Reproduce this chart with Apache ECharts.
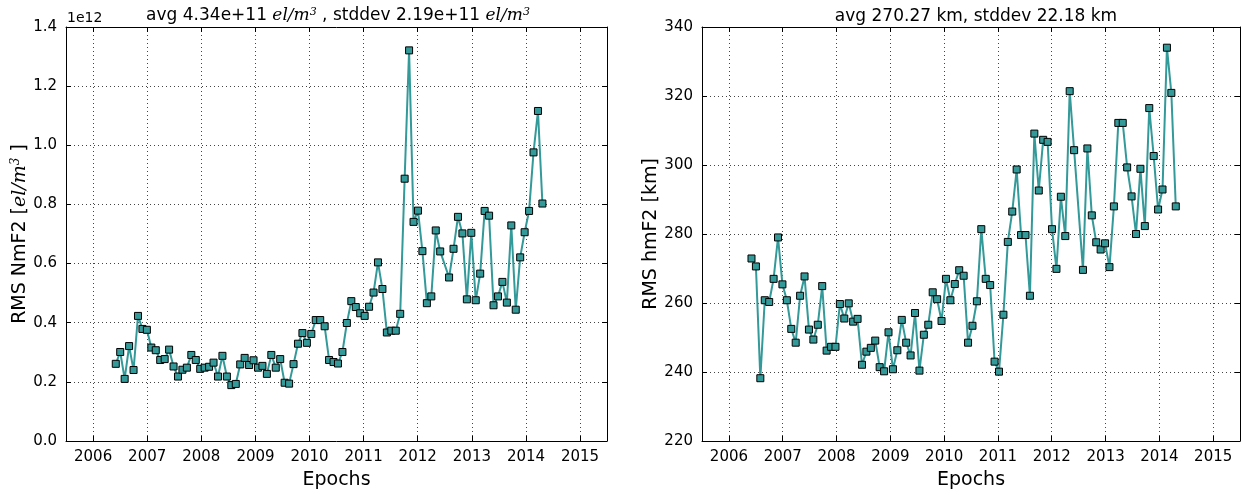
<!DOCTYPE html>
<html>
<head>
<meta charset="utf-8">
<script src="https://cdn.jsdelivr.net/npm/echarts@6/dist/echarts.min.js"></script>
<style>
  html, body { margin: 0; padding: 0; background: #fff; }
  #chart { width: 1242px; height: 495px; }
</style>
</head>
<body>
<div id="chart"></div>
<script>
// epochs (30 day steps, one epoch missing in mid 2012)
var epochs = [
  '2006-06-03', '2006-07-03', '2006-08-02', '2006-09-01', '2006-10-01', '2006-10-31', '2006-11-30', '2006-12-30',
  '2007-01-29', '2007-02-28', '2007-03-30', '2007-04-29', '2007-05-29', '2007-06-28', '2007-07-28', '2007-08-27',
  '2007-09-26', '2007-10-26', '2007-11-25', '2007-12-25', '2008-01-24', '2008-02-23', '2008-03-24', '2008-04-23',
  '2008-05-23', '2008-06-22', '2008-07-22', '2008-08-21', '2008-09-20', '2008-10-20', '2008-11-19', '2008-12-19',
  '2009-01-18', '2009-02-17', '2009-03-19', '2009-04-18', '2009-05-18', '2009-06-17', '2009-07-17', '2009-08-16',
  '2009-09-15', '2009-10-15', '2009-11-14', '2009-12-14', '2010-01-13', '2010-02-12', '2010-03-14', '2010-04-13',
  '2010-05-13', '2010-06-12', '2010-07-12', '2010-08-11', '2010-09-10', '2010-10-10', '2010-11-09', '2010-12-09',
  '2011-01-08', '2011-02-07', '2011-03-09', '2011-04-08', '2011-05-08', '2011-06-07', '2011-07-07', '2011-08-06',
  '2011-09-05', '2011-10-05', '2011-11-04', '2011-12-04', '2012-01-03', '2012-02-02', '2012-03-03', '2012-04-02',
  '2012-05-02', '2012-06-01', '2012-07-31', '2012-08-30', '2012-09-29', '2012-10-29', '2012-11-28', '2012-12-28',
  '2013-01-27', '2013-02-26', '2013-03-28', '2013-04-27', '2013-05-27', '2013-06-26', '2013-07-26', '2013-08-25',
  '2013-09-24', '2013-10-24', '2013-11-23', '2013-12-23', '2014-01-22', '2014-02-21', '2014-03-23', '2014-04-22'
];

// RMS NmF2, in units of 1e12 el/m^3
var nmf2 = [
  0.261, 0.301, 0.210, 0.321, 0.240, 0.423, 0.379, 0.376, 0.316, 0.307, 0.274, 0.277,
  0.309, 0.252, 0.218, 0.241, 0.248, 0.291, 0.274, 0.244, 0.248, 0.251, 0.265, 0.218,
  0.288, 0.218, 0.189, 0.193, 0.259, 0.281, 0.257, 0.273, 0.248, 0.254, 0.227, 0.291,
  0.248, 0.277, 0.197, 0.194, 0.260, 0.329, 0.365, 0.332, 0.362, 0.409, 0.409, 0.388,
  0.274, 0.267, 0.262, 0.301, 0.399, 0.473, 0.453, 0.432, 0.423, 0.454, 0.502, 0.604,
  0.514, 0.367, 0.373, 0.373, 0.430, 0.887, 1.321, 0.741, 0.779, 0.642, 0.466, 0.489,
  0.712, 0.641, 0.553, 0.650, 0.758, 0.702, 0.479, 0.704, 0.476, 0.566, 0.778, 0.762,
  0.459, 0.489, 0.538, 0.468, 0.729, 0.444, 0.621, 0.706, 0.778, 0.976, 1.116, 0.803
];

// RMS hmF2 [km]
var hmf2 = [
  272.9, 270.6, 238.2, 260.8, 260.3, 267.0, 279.0, 265.4, 260.8, 252.5, 248.5, 262.1,
  267.7, 252.3, 249.4, 253.7, 264.9, 246.2, 247.3, 247.3, 259.7, 255.5, 259.9, 254.6,
  255.4, 242.1, 245.9, 247.0, 249.1, 241.4, 240.2, 251.5, 240.8, 246.3, 255.1, 248.5,
  244.8, 257.1, 240.4, 250.8, 253.7, 263.1, 261.1, 254.8, 267.0, 260.8, 265.5, 269.5,
  267.9, 248.5, 253.4, 260.5, 281.4, 267.0, 265.2, 243.0, 240.1, 256.6, 277.7, 286.5,
  298.7, 279.7, 279.7, 262.1, 309.1, 292.6, 307.3, 306.7, 281.4, 269.9, 290.8, 279.4,
  321.4, 304.3, 269.6, 304.8, 285.4, 277.6, 275.5, 277.3, 270.4, 288.0, 312.2, 312.2,
  299.3, 290.9, 280.0, 298.9, 282.3, 316.5, 302.6, 287.1, 292.9, 334.0, 320.9, 288.0
];

var xMin = '2005-07-02';
var xMax = '2015-07-02';
var font = 'DejaVu Sans';
var teal = '#339999';

var chart = echarts.init(document.getElementById('chart'));

function pairs(vals) {
    return epochs.map(function (d, i) { return [d, vals[i]]; });
}

var dotted = { show: true, lineStyle: { color: '#444', width: 1, type: [1, 3] } };
var frameLine = { show: true, onZero: false, lineStyle: { color: '#000', width: 1 } };
var tick = { show: true, inside: true, length: 5, lineStyle: { color: '#000' } };

function xAxis(grid, pos) {
    var bottom = pos === 'bottom';
    return {
        type: 'time', gridIndex: grid, position: pos,
        min: xMin, max: xMax, splitNumber: 10,
        minInterval: 365 * 24 * 3600 * 1000,
        axisLine: frameLine, axisTick: tick,
        splitLine: bottom ? dotted : { show: false },
        axisLabel: {
            show: bottom, formatter: '{yyyy}', margin: 9,
            color: '#000', fontFamily: font, fontSize: 15
        },
        name: bottom ? 'Epochs' : '', nameLocation: 'middle', nameGap: 30,
        nameTextStyle: { color: '#000', fontFamily: font, fontSize: 19 }
    };
}

function yAxis(grid, pos, min, max, step, fmt, name, gap) {
    var left = pos === 'left';
    return {
        type: 'value', gridIndex: grid, position: pos,
        min: min, max: max, interval: step,
        axisLine: frameLine, axisTick: tick,
        splitLine: left ? dotted : { show: false },
        axisLabel: {
            show: left, formatter: fmt, margin: 9,
            color: '#000', fontFamily: font, fontSize: 15
        },
        name: left ? name : '', nameLocation: 'middle', nameGap: gap,
        nameTextStyle: {
            color: '#000', fontFamily: font, fontSize: 19,
            rich: {
                i: { fontFamily: 'DejaVu Serif', fontStyle: 'italic', fontSize: 19, color: '#000' },
                s: { fontFamily: 'DejaVu Serif', fontStyle: 'italic', fontSize: 12, color: '#000',
                     verticalAlign: 'top', lineHeight: 12 }
            }
        }
    };
}

var titleRich = {
    i: { fontFamily: 'DejaVu Serif', fontStyle: 'italic', fontSize: 17, color: '#000' },
    s: { fontFamily: 'DejaVu Serif', fontStyle: 'italic', fontSize: 11, color: '#000',
         verticalAlign: 'top', lineHeight: 11 }
};

var option = {
    animation: false,
    backgroundColor: '#fff',
    title: [{
        text: 'avg 4.34e+11 {i|el/m}{s|3} , stddev 2.19e+11 {i|el/m}{s|3}',
        left: 333, top: 2, textAlign: 'center',
        textStyle: { fontFamily: font, fontSize: 17, fontWeight: 'normal', color: '#000', rich: titleRich }
    }, {
        text: 'avg 270.27 km, stddev 22.18 km',
        left: 971, top: 3, textAlign: 'center',
        textStyle: { fontFamily: font, fontSize: 17, fontWeight: 'normal', color: '#000' }
    }],
    graphic: [{
        type: 'text', left: 67, top: 11,
        style: { text: '1e12', fontFamily: font, fontSize: 14, fill: '#000' }
    }],
    grid: [
        { left: 66, top: 27, width: 541, height: 416 },
        { left: 702, top: 27, width: 538, height: 416 }
    ],
    xAxis: [xAxis(0, 'bottom'), xAxis(0, 'top'), xAxis(1, 'bottom'), xAxis(1, 'top')],
    yAxis: [
        yAxis(0, 'left', 0, 1.4, 0.2, function (v) { return v.toFixed(1); },
            'RMS NmF2 [{i|el/m}{s|3} ]', 36),
        yAxis(0, 'right', 0, 1.4, 0.2, null, '', 0),
        yAxis(1, 'left', 220, 340, 20, null, 'RMS hmF2 [km]', 41),
        yAxis(1, 'right', 220, 340, 20, null, '', 0)
    ],
    series: [{
        type: 'line', xAxisIndex: 0, yAxisIndex: 0,
        data: pairs(nmf2),
        symbol: 'rect', symbolSize: 7,
        lineStyle: { color: teal, width: 2 },
        itemStyle: { color: teal, borderColor: '#000', borderWidth: 1 }
    }, {
        type: 'line', xAxisIndex: 2, yAxisIndex: 2,
        data: pairs(hmf2),
        symbol: 'rect', symbolSize: 7,
        lineStyle: { color: teal, width: 2 },
        itemStyle: { color: teal, borderColor: '#000', borderWidth: 1 }
    }]
};

chart.setOption(option);
</script>
</body>
</html>
